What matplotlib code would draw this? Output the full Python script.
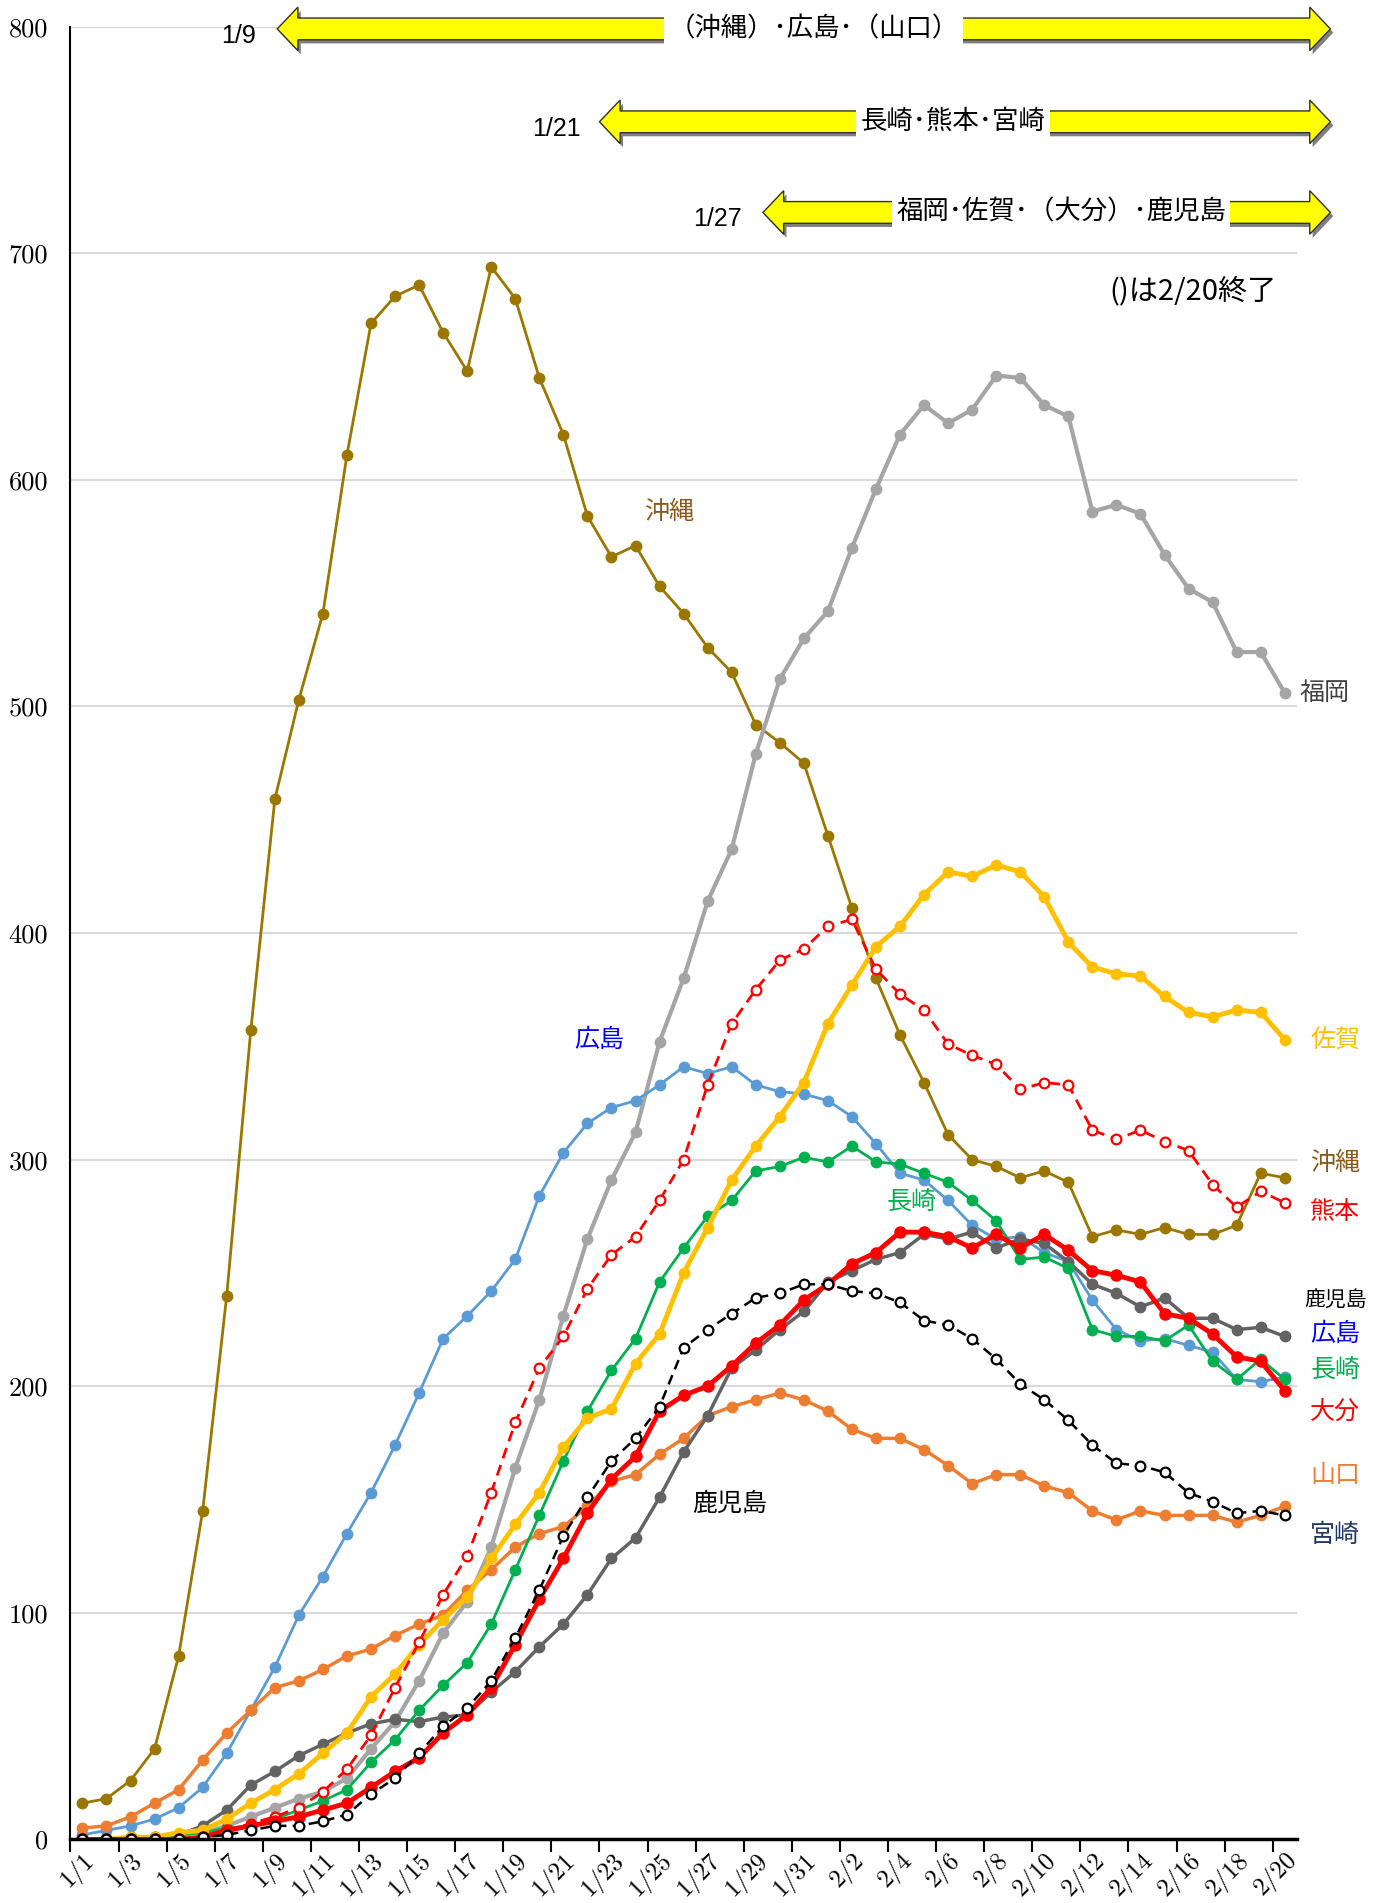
import matplotlib
matplotlib.use("Agg")
import matplotlib.pyplot as plt
from matplotlib.patches import Polygon
import numpy as np

plt.rcParams['font.family'] = ['Noto Sans CJK JP', 'DejaVu Sans']

# 日付 (カテゴリ)
dates = ["1/1", "1/2", "1/3", "1/4", "1/5", "1/6", "1/7", "1/8", "1/9", "1/10",
         "1/11", "1/12", "1/13", "1/14", "1/15", "1/16", "1/17", "1/18", "1/19", "1/20",
         "1/21", "1/22", "1/23", "1/24", "1/25", "1/26", "1/27", "1/28", "1/29", "1/30", "1/31",
         "2/1", "2/2", "2/3", "2/4", "2/5", "2/6", "2/7", "2/8", "2/9", "2/10",
         "2/11", "2/12", "2/13", "2/14", "2/15", "2/16", "2/17", "2/18", "2/19", "2/20"]

okinawa = [16, 18, 26, 40, 81, 145, 240, 357, 459, 503,
           541, 611, 669, 681, 686, 665, 648, 694, 680, 645,
           620, 584, 566, 571, 553, 541, 526, 515, 492, 484, 475,
           443, 411, 380, 355, 334, 311, 300, 297, 292, 295,
           290, 266, 269, 267, 270, 267, 267, 271, 294, 292]
fukuoka = [0, 0, 1, 1, 2, 3, 6, 10, 14, 18,
           21, 27, 40, 52, 70, 91, 105, 129, 164, 194,
           231, 265, 291, 312, 352, 380, 414, 437, 479, 512, 530,
           542, 570, 596, 620, 633, 625, 631, 646, 645, 633,
           628, 586, 589, 585, 567, 552, 546, 524, 524, 506]
saga = [0, 0, 1, 1, 3, 4, 9, 16, 22, 29,
        38, 47, 63, 73, 86, 97, 107, 124, 139, 153,
        173, 186, 190, 210, 223, 250, 270, 291, 306, 319, 334,
        360, 377, 394, 403, 417, 427, 425, 430, 427, 416,
        396, 385, 382, 381, 372, 365, 363, 366, 365, 353]
kumamoto = [0, 0, 0, 0, 0, 1, 4, 7, 10, 14,
            21, 31, 46, 67, 87, 108, 125, 153, 184, 208,
            222, 243, 258, 266, 282, 300, 333, 360, 375, 388, 393,
            403, 406, 384, 373, 366, 351, 346, 342, 331, 334,
            333, 313, 309, 313, 308, 304, 289, 279, 286, 281]
hiroshima = [2, 4, 6, 9, 14, 23, 38, 57, 76, 99,
             116, 135, 153, 174, 197, 221, 231, 242, 256, 284,
             303, 316, 323, 326, 333, 341, 338, 341, 333, 330, 329,
             326, 319, 307, 294, 291, 282, 271, 265, 266, 259,
             255, 238, 225, 220, 221, 218, 215, 203, 202, 204]
nagasaki = [0, 0, 1, 1, 2, 3, 5, 6, 9, 13,
            17, 22, 34, 44, 57, 68, 78, 95, 119, 143,
            167, 189, 207, 221, 246, 261, 275, 282, 295, 297, 301,
            299, 306, 299, 298, 294, 290, 282, 273, 256, 257,
            252, 225, 222, 222, 220, 227, 211, 203, 212, 203]
kagoshima = [0, 0, 0, 1, 2, 6, 13, 24, 30, 37,
             42, 47, 51, 53, 52, 54, 55, 65, 74, 85,
             95, 108, 124, 133, 151, 171, 187, 208, 216, 225, 233,
             246, 251, 256, 259, 267, 265, 268, 261, 265, 263,
             255, 245, 241, 235, 239, 230, 230, 225, 226, 222]
oita = [0, 0, 0, 0, 0, 1, 4, 6, 8, 10,
        13, 16, 23, 30, 36, 47, 55, 67, 86, 106,
        124, 144, 159, 169, 189, 196, 200, 209, 219, 227, 238,
        245, 254, 259, 268, 268, 266, 261, 267, 261, 267,
        260, 251, 249, 246, 232, 230, 223, 213, 211, 198]
yamaguchi = [5, 6, 10, 16, 22, 35, 47, 57, 67, 70,
             75, 81, 84, 90, 95, 99, 110, 119, 129, 135,
             138, 147, 158, 161, 170, 177, 187, 191, 194, 197, 194,
             189, 181, 177, 177, 172, 165, 157, 161, 161, 156,
             153, 145, 141, 145, 143, 143, 143, 140, 143, 147]
miyazaki = [0, 0, 0, 0, 0, 1, 2, 4, 6, 6,
            8, 11, 20, 27, 38, 50, 58, 70, 89, 110,
            134, 151, 167, 177, 191, 217, 225, 232, 239, 241, 245,
            245, 242, 241, 237, 229, 227, 221, 212, 201, 194,
            185, 174, 166, 165, 162, 153, 149, 144, 145, 143]

x = np.arange(len(dates))

fig = plt.figure(figsize=(13.89, 19.03), dpi=100)
ax = fig.add_axes([0.0507, 0.0334, 0.8829, 0.9526])

# 系列 (描画順 = 重なり順)
ms = 7.5
ax.plot(x, okinawa, color='#9C7700', lw=2, marker='o', ms=ms)
ax.plot(x, fukuoka, color='#A5A5A5', lw=3, marker='o', ms=ms)
ax.plot(x, hiroshima, color='#5B9BD5', lw=2, marker='o', ms=ms)
ax.plot(x, yamaguchi, color='#ED7D31', lw=2.5, marker='o', ms=ms)
ax.plot(x, kagoshima, color='#636363', lw=2.5, marker='o', ms=ms)
ax.plot(x, nagasaki, color='#00B050', lw=2, marker='o', ms=ms)
ax.plot(x, saga, color='#FFC000', lw=3.5, marker='o', ms=ms)
ax.plot(x, kumamoto, color='#FF0000', lw=2, ls=(0, (4, 2.5)), marker='o', ms=7,
        mfc='white', mec='#FF0000', mew=1.6)
ax.plot(x, oita, color='#FF0000', lw=3.5, marker='o', ms=8)
ax.plot(x, miyazaki, color='black', lw=1.8, ls=(0, (4, 2.5)), marker='o', ms=7,
        mfc='white', mec='black', mew=1.6)

ax.set_xlim(-0.5, 50.5)
ax.set_ylim(0, 800)
ax.set_yticks(range(0, 801, 100))
ax.yaxis.grid(True, color='#D9D9D9', lw=1.5)
ax.set_axisbelow(True)
for s in ['top', 'right']:
    ax.spines[s].set_visible(False)
ax.spines['left'].set_linewidth(1.5)
ax.spines['bottom'].set_linewidth(2.5)
ax.tick_params(axis='y', length=0, pad=16, labelsize=19)
for lab in ax.get_yticklabels():
    lab.set_fontfamily('cmr10')

# x軸: 目盛は区切り位置、ラベルは2日おき
ax.set_xticks(np.arange(-0.5, 50, 2))
ax.set_xticklabels([])
ax.tick_params(axis='x', which='major', length=9, width=1.5, direction='out')
ax.set_xticks(x[::2], minor=True)
ax.set_xticklabels(dates[::2], minor=True, rotation=45, ha='right', va='top',
                   rotation_mode='anchor', fontsize=18, family='cmr10')
ax.tick_params(axis='x', which='minor', length=0, pad=6)

# 系列名ラベル
lab_kw = dict(fontsize=18, ha='center', va='center')
ax.text(24.4, 586, '沖縄', color='#8B5A1A', **lab_kw)
ax.text(21.5, 353, '広島', color='#0000FF', **lab_kw)
ax.text(34.5, 281, '長崎', color='#00B050', **lab_kw)
ax.text(26.9, 148, '鹿児島', color='black', **lab_kw)
ax.text(50.6, 506, '福岡', color='#404040', fontsize=18, ha='left', va='center')

rx = 52.1
right_labels = [('佐賀', 353, '#FFC000'), ('沖縄', 298.5, '#8B5A1A'),
                ('熊本', 277, '#FF0000'), ('鹿児島', 238, 'black'),
                ('広島', 223, '#0000FF'), ('長崎', 207, '#00B050'),
                ('大分', 188.6, '#FF0000'), ('山口', 161, '#ED7D31'),
                ('宮崎', 134.5, '#1F3864')]
for name, yy, col in right_labels:
    fs = 15 if name == '鹿児島' else 18
    ax.text(rx, yy, name, color=col, fontsize=fs, ha='center', va='center', clip_on=False)

ax.text(46.2, 683, '()は2/20終了', fontsize=21, ha='center', va='center')


def double_arrow(x0, x1, yc, label, tx, start_lab, slx):
    H, h, L = 9.6, 4.8, 0.86
    pts = [(x0, yc), (x0 + L, yc + H), (x0 + L, yc + h), (x1 - L, yc + h),
           (x1 - L, yc + H), (x1, yc), (x1 - L, yc - H), (x1 - L, yc - h),
           (x0 + L, yc - h), (x0 + L, yc - H)]
    shadow = Polygon([(px + 0.12, py - 1.6) for px, py in pts], closed=True,
                     facecolor='#7F7F7F', edgecolor='none', clip_on=False, zorder=5)
    poly = Polygon(pts, closed=True, facecolor='#FFFF00', edgecolor='#303030',
                   lw=1, clip_on=False, zorder=6)
    ax.add_patch(shadow)
    ax.add_patch(poly)
    ax.text(tx, yc, label, fontsize=19, ha='center', va='center', zorder=7,
            bbox=dict(facecolor='white', edgecolor='none', pad=3), clip_on=False)
    ax.text(slx, yc - 3, start_lab, fontsize=18, ha='center', va='center',
            family='Liberation Sans', clip_on=False, zorder=7)


double_arrow(8.1, 51.9, 799, '（沖縄）･広島･（山口）', 30.4, '1/9', 6.5)
double_arrow(21.5, 51.9, 758, '長崎･熊本･宮崎', 36.2, '1/21', 19.7)
double_arrow(28.3, 51.9, 718, '福岡･佐賀･（大分）･鹿児島', 40.7, '1/27', 26.4)

plt.savefig('out.png', dpi=100)
